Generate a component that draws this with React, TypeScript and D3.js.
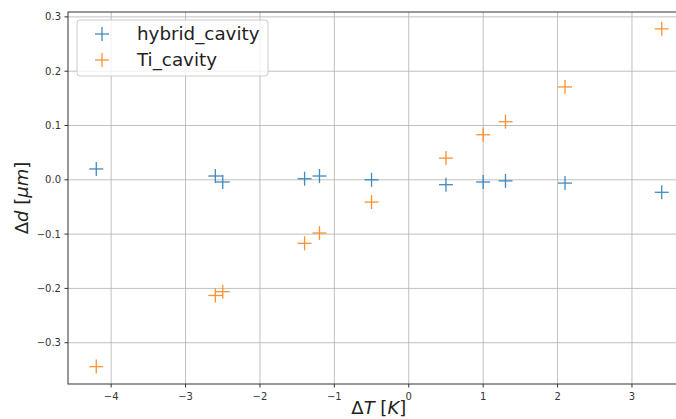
import * as d3 from "d3";

const width = 676;
const height = 419;
const margin = { left: 68, top: 12, bottomY: 384, rightX: 690 };

// ΔT values shared by both series
const deltaT = [-4.2, -2.6, -2.5, -1.4, -1.2, -0.5, 0.5, 1.0, 1.3, 2.1, 3.4];
const hybridCavity = [0.02, 0.007, -0.004, 0.002, 0.007, 0.0, -0.009, -0.004, -0.002, -0.006, -0.023];
const tiCavity = [-0.344, -0.213, -0.206, -0.117, -0.098, -0.041, 0.04, 0.083, 0.107, 0.171, 0.278];

const xTicks = [-4, -3, -2, -1, 0, 1, 2, 3];
const yTicks = [-0.3, -0.2, -0.1, 0.0, 0.1, 0.2, 0.3];

const series = [
  { name: "hybrid_cavity", values: hybridCavity, color: "#1f77b4" },
  { name: "Ti_cavity", values: tiCavity, color: "#ff7f0e" },
];

const fmt = (v: number) => {
  const s = d3.format(".1f")(Math.abs(v));
  return v < -1e-9 ? "\u2212" + s : s;
};

export default function App() {
  const x = d3.scaleLinear().domain([-4.58, 3.78]).range([margin.left, margin.rightX]);
  const y = d3.scaleLinear().domain([-0.376, 0.309]).range([margin.bottomY, margin.top]);
  const font = "DejaVu Sans, sans-serif";
  const ms = 7; // half marker size

  const plus = (cx: number, cy: number, color: string, key: string) => (
    <g key={key} stroke={color} strokeWidth={1.3} opacity={0.85}>
      <line x1={cx - ms} x2={cx + ms} y1={cy} y2={cy} />
      <line x1={cx} x2={cx} y1={cy - ms} y2={cy + ms} />
    </g>
  );

  return (
    <div style={{ position: "fixed", left: 0, top: 0 }}>
      <svg width={width} height={height} style={{ display: "block", background: "#fff" }}>
        <defs>
          <clipPath id="plotclip">
            <rect x={margin.left} y={margin.top} width={margin.rightX - margin.left} height={margin.bottomY - margin.top} />
          </clipPath>
        </defs>

        {/* grid */}
        <g stroke="#b0b0b0" strokeWidth={0.8}>
          {xTicks.map((t) => (
            <line key={"gx" + t} x1={x(t)} x2={x(t)} y1={margin.top} y2={margin.bottomY} />
          ))}
          {yTicks.map((t) => (
            <line key={"gy" + t} x1={margin.left} x2={margin.rightX} y1={y(t)} y2={y(t)} />
          ))}
        </g>

        {/* points */}
        <g clipPath="url(#plotclip)">
          {series.map((s) =>
            s.values.map((v, i) => plus(x(deltaT[i]), y(v), s.color, s.name + i))
          )}
        </g>

        {/* spines */}
        <rect x={margin.left} y={margin.top} width={margin.rightX - margin.left}
          height={margin.bottomY - margin.top} fill="none" stroke="#333" strokeWidth={1} />

        {/* x ticks */}
        {xTicks.map((t) => (
          <g key={"xt" + t}>
            <line x1={x(t)} x2={x(t)} y1={margin.bottomY} y2={margin.bottomY + 3.5} stroke="#333" />
            <text x={x(t)} y={margin.bottomY + 16} textAnchor="middle" fontSize={10} fontFamily={font} fill="#333">
              {fmt(t).replace(".0", "")}
            </text>
          </g>
        ))}

        {/* y ticks */}
        {yTicks.map((t) => (
          <g key={"yt" + t}>
            <line x1={margin.left - 3.5} x2={margin.left} y1={y(t)} y2={y(t)} stroke="#333" />
            <text x={margin.left - 7} y={y(t)} dy="0.35em" textAnchor="end" fontSize={10} fontFamily={font} fill="#333">
              {fmt(t)}
            </text>
          </g>
        ))}

        {/* axis labels */}
        <text x={x(0) - 30} y={414} textAnchor="middle" fontSize={18} fontFamily={font} fill="#222">
          Δ<tspan fontStyle="italic">T</tspan> [<tspan fontStyle="italic">K</tspan>]
        </text>
        <text transform={`translate(28, ${(margin.top + margin.bottomY) / 2}) rotate(-90)`} textAnchor="middle"
          fontSize={18} fontFamily={font} fill="#222">
          Δ<tspan fontStyle="italic">d</tspan> [<tspan fontStyle="italic">μm</tspan>]
        </text>

        {/* legend */}
        <rect x={77} y={20} width={191} height={56} rx={3} fill="#fff" fillOpacity={0.8} stroke="#ccc" />
        {series.map((s, i) => (
          <g key={"lg" + s.name}>
            {plus(102, 34 + i * 26, s.color, "lm" + i)}
            <text x={137} y={34 + i * 26} dy="0.35em" fontSize={18.3} fontFamily={font} fill="#222">
              {s.name}
            </text>
          </g>
        ))}
      </svg>
    </div>
  );
}
